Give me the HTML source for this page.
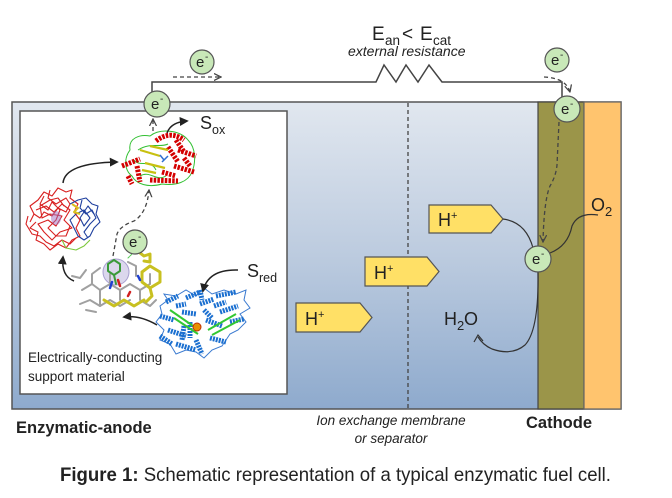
<!DOCTYPE html>
<html><head><meta charset="utf-8"><style>
html,body{margin:0;padding:0;background:#fff;}
svg{display:block;}
text{font-family:"Liberation Sans",Arial,sans-serif;fill:#222;}
</style></head><body>
<svg width="672" height="498" viewBox="0 0 672 498" xmlns="http://www.w3.org/2000/svg">
<defs>
<linearGradient id="bg" x1="0" y1="0" x2="0" y2="1">
<stop offset="0" stop-color="#e1e7ef"/><stop offset="0.5" stop-color="#bccbdf"/><stop offset="1" stop-color="#8eaacd"/>
</linearGradient>
<marker id="fa" viewBox="0 0 10 10" refX="8" refY="5" markerWidth="6" markerHeight="6" orient="auto"><path d="M0,0 L10,5 L0,10 Z" fill="#222"/></marker>
<marker id="oa" viewBox="0 0 10 10" refX="9" refY="5" markerWidth="6" markerHeight="6" orient="auto"><path d="M0,0.5 L9,5 L0,9.5" fill="none" stroke="#444" stroke-width="1.6"/></marker>
</defs>

<!-- cell -->
<rect x="12" y="102" width="609" height="307" fill="url(#bg)" stroke="#555" stroke-width="1.5"/>
<rect x="538" y="102" width="46" height="307" fill="#9b9549" stroke="#444" stroke-width="1.2"/>
<rect x="584" y="102" width="37" height="307" fill="#ffc46e" stroke="#666" stroke-width="1.2"/>
<line x1="408" y1="103" x2="408" y2="409" stroke="#444" stroke-width="1.3" stroke-dasharray="4 3"/>
<rect x="20" y="111" width="267" height="283" fill="#fff" stroke="#555" stroke-width="1.5"/>

<!-- wire -->
<polyline points="152,103 152,82 376,82 384,65 396,82 406,65 418,82 429,65 442,82 562,82 562,97" fill="none" stroke="#444" stroke-width="1.5"/>

<!-- top labels -->
<text x="372" y="40" font-size="19">E</text>
<text x="385" y="45" font-size="13.5">an</text>
<text x="402" y="40" font-size="19">&lt;</text>
<text x="420" y="40" font-size="19">E</text>
<text x="433" y="45" font-size="13.5">cat</text>
<text x="348" y="56" font-size="14" font-style="italic" fill="#333">external resistance</text>

<!-- dashed electron arrows -->
<path d="M173,77 L221,77" fill="none" stroke="#444" stroke-width="1.3" stroke-dasharray="4 3" marker-end="url(#oa)"/>
<path d="M544,77 Q566,78 570,92" fill="none" stroke="#444" stroke-width="1.3" stroke-dasharray="4 3" marker-end="url(#oa)"/>
<path d="M559,122 L557,165 Q556,176 550,186 Q544,200 543,242" fill="none" stroke="#444" stroke-width="1.3" stroke-dasharray="4 3" marker-end="url(#oa)"/>
<path d="M153,131 L153,119" fill="none" stroke="#444" stroke-width="1.3" stroke-dasharray="4 3" marker-end="url(#oa)"/>
<path d="M113,256 L117,234 Q120,226 134,221 Q147,213 149,190" fill="none" stroke="#444" stroke-width="1.3" stroke-dasharray="4 3" marker-end="url(#oa)"/>

<!-- H+ arrows -->
<polygon points="429,205 491,205 503,219 491,233 429,233" fill="#ffe066" stroke="#555" stroke-width="1.2"/>
<polygon points="365,257 427,257 439,271.5 427,286 365,286" fill="#ffe066" stroke="#555" stroke-width="1.2"/>
<polygon points="296,303 360,303 372,317.5 360,332 296,332" fill="#ffe066" stroke="#555" stroke-width="1.2"/>
<text x="438" y="226" font-size="18">H</text><text x="451" y="219" font-size="11">+</text>
<text x="374" y="279" font-size="18">H</text><text x="387" y="272" font-size="11">+</text>
<text x="305" y="325" font-size="18">H</text><text x="318" y="318" font-size="11">+</text>

<!-- cathode reaction curves -->
<path d="M503,219 Q526,222 533,248" fill="none" stroke="#333" stroke-width="1.2"/>
<path d="M538,272 Q539,330 525,345 Q512,356 492,349 Q483,345 478,337" fill="none" stroke="#333" stroke-width="1.2"/>
<polyline points="474,342 478,335 483,341" fill="none" stroke="#333" stroke-width="1.2"/>
<path d="M598,215 Q578,212 572,226 Q568,246 550,253" fill="none" stroke="#333" stroke-width="1.2"/>
<text x="591" y="211" font-size="18" fill="#333">O</text><text x="605" y="216" font-size="13" fill="#333">2</text>
<text x="444" y="325" font-size="18" fill="#333">H</text><text x="457" y="330" font-size="13" fill="#333">2</text><text x="464" y="325" font-size="18" fill="#333">O</text>

<!-- proteins: left red/blue -->
<g fill="none" stroke-width="1.1" stroke-linejoin="round">
<polyline stroke="#d82020" points="30,222 34,214 30,206 38,200 44,192 52,196 58,188 66,192 72,190 70,198 78,204 74,212 80,220 76,228 80,236 72,240 66,248 58,244 50,250 44,244 36,240 38,232 30,228 36,222"/>
<polyline stroke="#d82020" points="36,210 46,206 54,212 62,204 70,210 64,220 72,228 60,232 52,240 44,232 38,224 48,220 56,226 62,216 50,214 42,218 40,206 50,200 58,198 64,206"/>
<polyline stroke="#d82020" points="44,196 40,204 48,210 52,202 60,210 56,220 48,228 56,236 66,236 70,226"/>
<polyline stroke="#d82020" points="28,216 26,224 32,234 40,236 46,242 54,246 62,240 70,244 76,238"/>
<polyline stroke="#d82020" points="50,190 48,198 56,204 66,198 70,204 66,212 58,208 52,216 44,212 40,218 34,214"/>
<polyline stroke="#1e3f9e" points="70,204 78,200 86,198 92,204 98,206 96,214 100,222 94,228 90,236 84,240 78,236 74,228 70,220 76,214 84,210 90,218 84,226 80,218 88,206 94,214"/>
<polyline stroke="#1e3f9e" points="82,200 80,208 86,214 92,210 96,218 90,224 84,232 88,238"/>
<polyline stroke="#7cc83a" points="62,240 66,248 76,250 84,246 90,240"/>
<polyline stroke="#d8c020" stroke-width="2" points="72,204 78,208 74,212 80,214"/>
<ellipse cx="56" cy="218" rx="5" ry="7" fill="#a070c0" fill-opacity="0.5" stroke="none"/>
</g>

<!-- top enzyme -->
<g fill="none">
<path d="M130,150 C128,138 140,134 150,136 C160,128 180,130 188,140 C196,148 196,162 192,172 C188,182 176,186 162,184 C148,188 136,184 132,176 C124,170 124,158 130,150 Z" stroke="#33c033" stroke-width="1"/>
<path d="M138,150 C150,142 160,148 168,144 M140,176 C150,170 156,182 166,176 M134,160 C140,168 150,158 156,170" stroke="#33c033" stroke-width="1"/>
<g stroke="#d40000" stroke-width="5" stroke-dasharray="2.5 1.2">
<path d="M122,166 L140,159"/>
<path d="M156,141 Q170,130 184,140"/>
<path d="M178,150 L196,156"/>
<path d="M174,166 L194,172"/>
<path d="M150,180 L178,181"/>
<path d="M137,166 L140,182"/>
<path d="M168,147 L178,162"/>
<path d="M184,158 L190,166"/>
<path d="M176,140 L184,152"/>
<path d="M162,172 L176,176"/>
<path d="M128,176 L132,184"/>
</g>
<path d="M140,150 L160,156 M145,163 L165,168 M150,146 L168,150 M142,170 L156,173" stroke="#c8c010" stroke-width="2.2"/>
<path d="M160,155 L164,160 L168,156 M162,162 L166,158" stroke="#3070d0" stroke-width="1.5"/>
</g>

<!-- stick molecule -->
<g fill="none" stroke-linecap="round" stroke-linejoin="round">
<circle cx="116" cy="272" r="13" fill="#b8b0dc" fill-opacity="0.5" stroke="#a8a0d0" stroke-width="1"/>
<g stroke="#a0a0a0" stroke-width="2">
<polyline points="82,290 92,284 100,290 110,284 120,290 130,284 140,290 150,284 150,274"/>
<polyline points="92,284 92,274 100,268"/>
<polyline points="80,304 90,300 100,306 110,300 120,306 130,300"/>
<line x1="100" y1="290" x2="100" y2="306"/>
<line x1="120" y1="290" x2="120" y2="300"/>
<polyline points="140,290 140,300 150,306 156,300"/>
<polyline points="110,284 110,274"/>
<polyline points="86,270 80,278 72,276"/>
<polyline points="128,262 136,266 136,276"/>
<polyline points="86,310 96,312"/>
</g>
<polygon points="114,260 120,264 120,271 114,275 108,271 108,264" stroke="#3a9a3a" stroke-width="2"/>
<line x1="114" y1="275" x2="116" y2="284" stroke="#3a9a3a" stroke-width="2"/>
<g stroke="#c8c020" stroke-width="3">
<polyline points="104,300 114,306 124,300 134,306 144,300"/>
<polyline points="142,272 150,266 160,272 160,282 150,288 142,282 142,272"/>
<polyline points="150,288 152,296 146,302"/>
<polyline points="136,250 144,256 150,254 150,262 144,261"/>
</g>
<g stroke-width="2.5">
<line x1="118" y1="280" x2="120" y2="286" stroke="#d02020"/>
<line x1="112" y1="282" x2="110" y2="288" stroke="#2040d0"/>
<line x1="138" y1="276" x2="140" y2="280" stroke="#2040d0"/>
<line x1="132" y1="252" x2="135" y2="250" stroke="#d02020"/>
<line x1="128" y1="296" x2="130" y2="292" stroke="#d02020"/>
</g>
<line x1="128" y1="258" x2="134" y2="252" stroke="#5c5" stroke-width="1" stroke-dasharray="2 1"/>
</g>

<!-- blue enzyme -->
<g fill="none">
<path d="M160,306 L168,300 L164,294 L176,296 L186,290 L196,296 L204,288 L212,294 L224,290 L236,294 L246,290 L244,300 L250,308 L240,314 L246,322 L238,330 L230,334 L222,346 L212,350 L204,358 L196,352 L186,350 L176,354 L170,344 L160,340 L164,330 L156,322 L162,314 Z" stroke="#3a7ad0" stroke-width="1"/>
<g stroke="#1a6fd0" stroke-width="5" stroke-dasharray="2 1">
<path d="M166,302 L178,296"/>
<path d="M160,316 L174,320"/>
<path d="M168,330 L186,336"/>
<path d="M176,344 L196,350"/>
<path d="M186,298 L200,292"/>
<path d="M200,304 L214,299"/>
<path d="M216,296 L236,292"/>
<path d="M220,312 L238,306"/>
<path d="M206,320 L222,326"/>
<path d="M210,338 L226,342"/>
<path d="M182,312 L196,314"/>
<path d="M190,322 L190,338"/>
<path d="M230,322 L244,319"/>
<path d="M160,336 L172,344"/>
<path d="M200,290 L202,300"/>
<path d="M196,340 L202,354"/>
<path d="M176,306 L186,304"/>
<path d="M204,310 L212,318"/>
<path d="M214,306 L226,302"/>
<path d="M184,326 L182,340"/>
</g>
<path d="M170,310 L196,328 M174,318 L198,334 M208,330 L236,314 M212,335 L240,320" stroke="#33c833" stroke-width="2"/>
<circle cx="197" cy="327" r="4" fill="#e89000" stroke="#c03000" stroke-width="1"/>
</g>

<!-- inner box arrows -->
<g fill="none" stroke="#222" stroke-width="1.5">
<path d="M167,133 Q171,122 187,121" marker-end="url(#fa)"/>
<path d="M63,183 Q65,163 117,162" marker-end="url(#fa)"/>
<path d="M74,281 Q61,276 63,257" marker-end="url(#fa)"/>
<path d="M157,325 Q140,315 124,317" marker-end="url(#fa)"/>
<path d="M238,270 Q208,269 203,291" marker-end="url(#fa)"/>
</g>
<text x="200" y="129" font-size="18">S</text><text x="212" y="134" font-size="12.5">ox</text>
<text x="247" y="277" font-size="18">S</text><text x="259" y="282" font-size="12.5">red</text>
<text x="28" y="362" font-size="13.5">Electrically-conducting</text>
<text x="28" y="381" font-size="13.5">support material</text>

<!-- electrons -->
<g stroke="#555" stroke-width="1.2" fill="#c8e8b8">
<circle cx="202" cy="62" r="12"/>
<circle cx="157" cy="104" r="13"/>
<circle cx="557" cy="60" r="12"/>
<circle cx="567" cy="109" r="13"/>
<circle cx="538" cy="259" r="13"/>
<circle cx="135" cy="242" r="12"/>
</g>
<g font-size="15" fill="#333">
<text x="196" y="67">e</text><text x="205" y="60" font-size="10">-</text>
<text x="151" y="109">e</text><text x="160" y="102" font-size="10">-</text>
<text x="551" y="65">e</text><text x="560" y="58" font-size="10">-</text>
<text x="561" y="114">e</text><text x="570" y="107" font-size="10">-</text>
<text x="532" y="264">e</text><text x="541" y="257" font-size="10">-</text>
<text x="129" y="247">e</text><text x="138" y="240" font-size="10">-</text>
</g>

<!-- bottom labels -->
<text x="16" y="433" font-size="16.5" font-weight="bold" fill="#333">Enzymatic-anode</text>
<text x="526" y="428" font-size="16.5" font-weight="bold" fill="#333">Cathode</text>
<text x="391" y="425" font-size="13.5" font-style="italic" fill="#333" text-anchor="middle">Ion exchange membrane</text>
<text x="391" y="443" font-size="13.5" font-style="italic" fill="#333" text-anchor="middle">or separator</text>
<text x="60" y="481" font-size="19.5" fill="#111" textLength="551" lengthAdjust="spacingAndGlyphs"><tspan font-weight="bold">Figure 1:</tspan> Schematic representation of a typical enzymatic fuel cell.</text>
</svg>
</body></html>
